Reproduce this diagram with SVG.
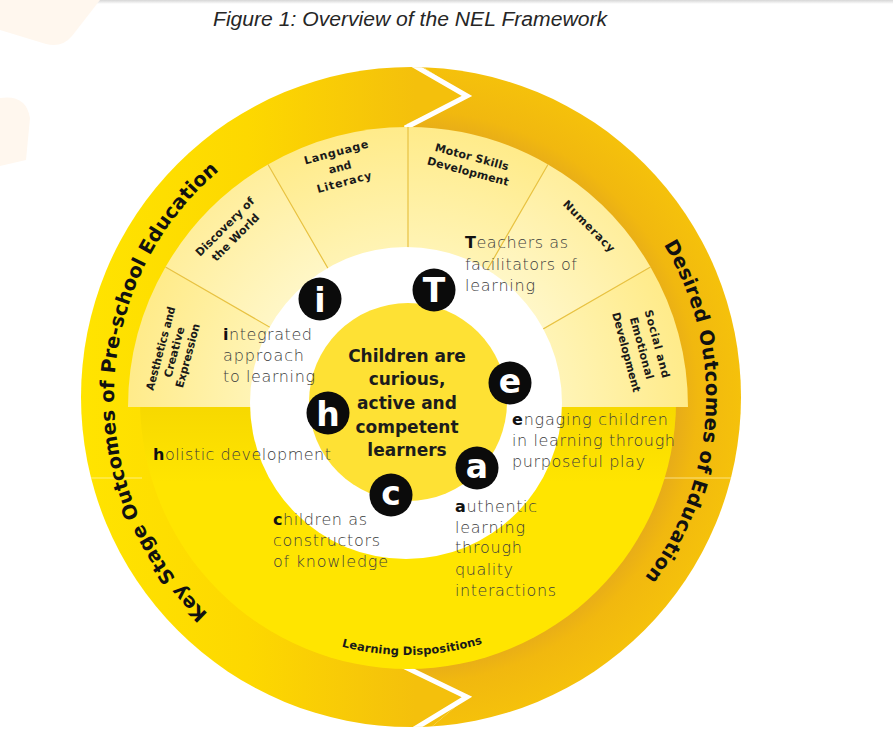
<svg xmlns="http://www.w3.org/2000/svg" width="893" height="734" viewBox="0 0 893 734">
<defs>
  <style>
    .sec{font-family:"DejaVu Sans",sans-serif;font-weight:bold;font-size:11px;fill:#1a1a1a;text-anchor:middle}
    .ring{font-family:"DejaVu Sans",sans-serif;font-weight:bold;font-size:19.5px;fill:#111}
    .lbl{font-family:"DejaVu Sans",sans-serif;font-weight:300;font-size:16px;fill:#3c3c3c}
    .lbl .b{font-weight:bold;fill:#111}
    .ctr{font-family:"DejaVu Sans",sans-serif;font-weight:bold;font-size:17px;fill:#1c1c1c;text-anchor:middle}
    .bdg circle{fill:#0b0b0b}
    .bdg text{font-family:"DejaVu Sans",sans-serif;font-weight:bold;font-size:33px;fill:#fff;text-anchor:middle}
    .sline{stroke:#E8C244;stroke-width:1.2;fill:none}
  </style>
  <linearGradient id="gTop" x1="0" y1="0" x2="0" y2="1">
    <stop offset="0" stop-color="#d6d6d6"/><stop offset="1" stop-color="#ffffff"/>
  </linearGradient>
  <linearGradient id="gL" gradientUnits="userSpaceOnUse" x1="81" y1="0" x2="415" y2="0">
    <stop offset="0" stop-color="#FFE400"/><stop offset="0.5" stop-color="#FDD800"/><stop offset="1" stop-color="#F4C00C"/>
  </linearGradient>
  <radialGradient id="gR" gradientUnits="userSpaceOnUse" cx="411" cy="397" r="330">
    <stop offset="0.8" stop-color="#E6AB1A"/><stop offset="0.87" stop-color="#F1B80F"/><stop offset="1" stop-color="#F5C10B"/>
  </radialGradient>
  <radialGradient id="gS" gradientUnits="userSpaceOnUse" cx="408" cy="407" r="280">
    <stop offset="0.55" stop-color="#FFF4B6"/><stop offset="1" stop-color="#FFEB8A"/>
  </radialGradient>
  <radialGradient id="gS2" gradientUnits="userSpaceOnUse" cx="408" cy="407" r="280">
    <stop offset="0.55" stop-color="#FFF7C8"/><stop offset="1" stop-color="#FFEE9C"/>
  </radialGradient>
  <linearGradient id="gSh" gradientUnits="userSpaceOnUse" x1="0" y1="407" x2="0" y2="482">
    <stop offset="0" stop-color="#E2B800" stop-opacity="0.28"/><stop offset="1" stop-color="#E2B800" stop-opacity="0"/>
  </linearGradient>
  <clipPath id="cOuter"><circle cx="411" cy="397" r="330"/></clipPath>
  <clipPath id="cDisc"><circle cx="408" cy="401" r="268"/></clipPath>
  <path id="pL" d="M208.1,613.5 A296,296 0 0 1 219.7,170.3"/>
  <path id="pR" d="M663.7,244.5 A296,296 0 0 1 643.9,578.4"/>
  <path id="pB" d="M341.5,646.4 A253,253 0 0 0 485.2,642.6"/>
</defs>

<rect width="893" height="734" fill="#fff"/>
<rect width="893" height="4" fill="url(#gTop)"/>
<g id="watermark" fill="#FFF7EE">
  <path d="M0,0 H100 L72,36 Q62,48 46,44 L0,30 Z"/>
  <path d="M0,98 Q26,94 30,118 L26,160 L0,166 Z"/>
</g>

<g id="outer-ring" clip-path="url(#cOuter)">
  <path id="key-stage-arc" d="M405,55 L467,96 L407,124 L407,670 L467,697 L410,745 L60,745 L60,55 Z" fill="url(#gL)"/>
  <path id="desired-arc" d="M405,55 L467,96 L407,124 L407,670 L467,697 L410,745 L770,745 L770,55 Z" fill="url(#gR)"/>
  <polyline points="401,58 467,96 405,128" fill="none" stroke="#fff" stroke-width="5"/>
  <polyline points="403,666 467,697 406,734" fill="none" stroke="#fff" stroke-width="5"/>
  <line x1="78" y1="478" x2="142" y2="478" stroke="#FFF3B0" stroke-opacity="0.7" stroke-width="1"/>
  <line x1="664" y1="478" x2="745" y2="478" stroke="#FFF3B0" stroke-opacity="0.7" stroke-width="1"/>
</g>

<g id="learning-dispositions">
  <circle cx="408" cy="401" r="268" fill="#FFE500"/>
  <rect x="130" y="407" width="560" height="76" fill="url(#gSh)" clip-path="url(#cDisc)"/>
</g>

<g id="sectors">
  <g id="sector-aesthetics"><path d="M408,407 L128,407 A280,280 0 0 1 165.5,267 Z" fill="url(#gS)"/></g>
  <g id="sector-discovery"><path d="M408,407 L165.5,267 A280,280 0 0 1 268,164.5 Z" fill="url(#gS2)"/></g>
  <g id="sector-language"><path d="M408,407 L268,164.5 A280,280 0 0 1 408,127 Z" fill="url(#gS)"/></g>
  <g id="sector-motor"><path d="M408,407 L408,127 A280,280 0 0 1 548,164.5 Z" fill="url(#gS)"/></g>
  <g id="sector-numeracy"><path d="M408,407 L548,164.5 A280,280 0 0 1 650.5,267 Z" fill="url(#gS2)"/></g>
  <g id="sector-social"><path d="M408,407 L650.5,267 A280,280 0 0 1 688,407 Z" fill="url(#gS)"/></g>
  <path class="sline" d="M408,407 L165.5,267 M408,407 L268,164.5 M408,407 L408,127 M408,407 L548,164.5 M408,407 L650.5,267"/>
</g>

<circle id="white-ring" cx="406" cy="403" r="156" fill="#fff"/>

<g id="center">
  <circle cx="408" cy="402" r="99" fill="#FEE134"/>
  <text class="ctr" x="407" y="362">Children are</text>
  <text class="ctr" x="407" y="385">curious,</text>
  <text class="ctr" x="407" y="409">active and</text>
  <text class="ctr" x="407" y="433">competent</text>
  <text class="ctr" x="407" y="456">learners</text>
</g>

<g id="badge-i" class="bdg"><circle cx="320" cy="299" r="21.5"/><text x="320" y="311.5">i</text></g>
<g id="badge-T" class="bdg"><circle cx="434" cy="290" r="21.5"/><text x="434" y="302">T</text></g>
<g id="badge-e" class="bdg"><circle cx="510" cy="383" r="21.5"/><text x="510" y="392.5">e</text></g>
<g id="badge-h" class="bdg"><circle cx="328" cy="413" r="21.5"/><text x="328" y="425.5">h</text></g>
<g id="badge-a" class="bdg"><circle cx="477" cy="468" r="21.5"/><text x="477" y="477.5">a</text></g>
<g id="badge-c" class="bdg"><circle cx="391" cy="495" r="21.5"/><text x="391" y="504.5">c</text></g>

<g id="label-integrated" class="lbl">
  <text x="223" y="340" textLength="89" lengthAdjust="spacing"><tspan class="b">i</tspan>ntegrated</text>
  <text x="223" y="361" textLength="81" lengthAdjust="spacing">approach</text>
  <text x="223" y="382" textLength="92" lengthAdjust="spacing">to learning</text>
</g>
<g id="label-teachers" class="lbl">
  <text x="465" y="248" textLength="103" lengthAdjust="spacing"><tspan class="b">T</tspan>eachers as</text>
  <text x="465" y="270" textLength="112" lengthAdjust="spacing">facilitators of</text>
  <text x="465" y="291" textLength="70" lengthAdjust="spacing">learning</text>
</g>
<g id="label-engaging" class="lbl">
  <text x="512" y="425" textLength="156" lengthAdjust="spacing"><tspan class="b">e</tspan>ngaging children</text>
  <text x="512" y="446" textLength="163" lengthAdjust="spacing">in learning through</text>
  <text x="512" y="467" textLength="133" lengthAdjust="spacing">purposeful play</text>
</g>
<g id="label-authentic" class="lbl">
  <text x="455" y="512" textLength="82" lengthAdjust="spacing"><tspan class="b">a</tspan>uthentic</text>
  <text x="455" y="533" textLength="70" lengthAdjust="spacing">learning</text>
  <text x="455" y="553" textLength="67" lengthAdjust="spacing">through</text>
  <text x="455" y="575" textLength="58" lengthAdjust="spacing">quality</text>
  <text x="455" y="596" textLength="101" lengthAdjust="spacing">interactions</text>
</g>
<g id="label-children" class="lbl">
  <text x="273" y="525" textLength="94" lengthAdjust="spacing"><tspan class="b">c</tspan>hildren as</text>
  <text x="273" y="546" textLength="107" lengthAdjust="spacing">constructors</text>
  <text x="273" y="567" textLength="115" lengthAdjust="spacing">of knowledge</text>
</g>
<g id="label-holistic" class="lbl">
  <text x="153" y="460" textLength="178" lengthAdjust="spacing"><tspan class="b">h</tspan>olistic development</text>
</g>

<g id="text-aesthetics" class="sec" transform="translate(174,352) rotate(-75)">
  <text x="0" y="-10" textLength="86" lengthAdjust="spacingAndGlyphs">Aesthetics and</text>
  <text x="0" y="4" textLength="52" lengthAdjust="spacingAndGlyphs">Creative</text>
  <text x="0" y="18" textLength="66" lengthAdjust="spacingAndGlyphs">Expression</text>
</g>
<g id="text-discovery" class="sec" transform="translate(230,232) rotate(-45)">
  <text x="0" y="-3.5" textLength="78" lengthAdjust="spacing">Discovery of</text>
  <text x="0" y="11.5" textLength="62" lengthAdjust="spacing">the World</text>
</g>
<g id="text-language" class="sec" transform="translate(340,167) rotate(-15)">
  <text x="0" y="-11.5" textLength="66" lengthAdjust="spacing">Language</text>
  <text x="0" y="4">and</text>
  <text x="0" y="19.5" textLength="56" lengthAdjust="spacing">Literacy</text>
</g>
<g id="text-motor" class="sec" transform="translate(470,164) rotate(15)">
  <text x="0" y="-3.5" textLength="76" lengthAdjust="spacing">Motor Skills</text>
  <text x="0" y="11.5" textLength="84" lengthAdjust="spacing">Development</text>
</g>
<g id="text-numeracy" class="sec" transform="translate(589,226) rotate(45)">
  <text x="0" y="4" textLength="68" lengthAdjust="spacing">Numeracy</text>
</g>
<g id="text-social" class="sec" transform="translate(642,348) rotate(75)">
  <text x="0" y="-12" textLength="70" lengthAdjust="spacing">Social and</text>
  <text x="0" y="4" textLength="64" lengthAdjust="spacing">Emotional</text>
  <text x="0" y="20" textLength="82" lengthAdjust="spacing">Development</text>
</g>

<g id="ring-labels">
  <text class="ring" textLength="500" lengthAdjust="spacing"><textPath href="#pL">Key Stage Outcomes of Pre-school Education</textPath></text>
  <text class="ring" textLength="354" lengthAdjust="spacing"><textPath href="#pR">Desired Outcomes of Education</textPath></text>
  <text class="sec" style="text-anchor:start;font-size:11.5px" textLength="143" lengthAdjust="spacing"><textPath href="#pB">Learning Dispositions</textPath></text>
</g>

<text id="title" x="213" y="26" font-family="Liberation Sans, sans-serif" font-style="italic" font-size="20" fill="#262626" textLength="394" lengthAdjust="spacingAndGlyphs">Figure 1: Overview of the NEL Framework</text>
</svg>
